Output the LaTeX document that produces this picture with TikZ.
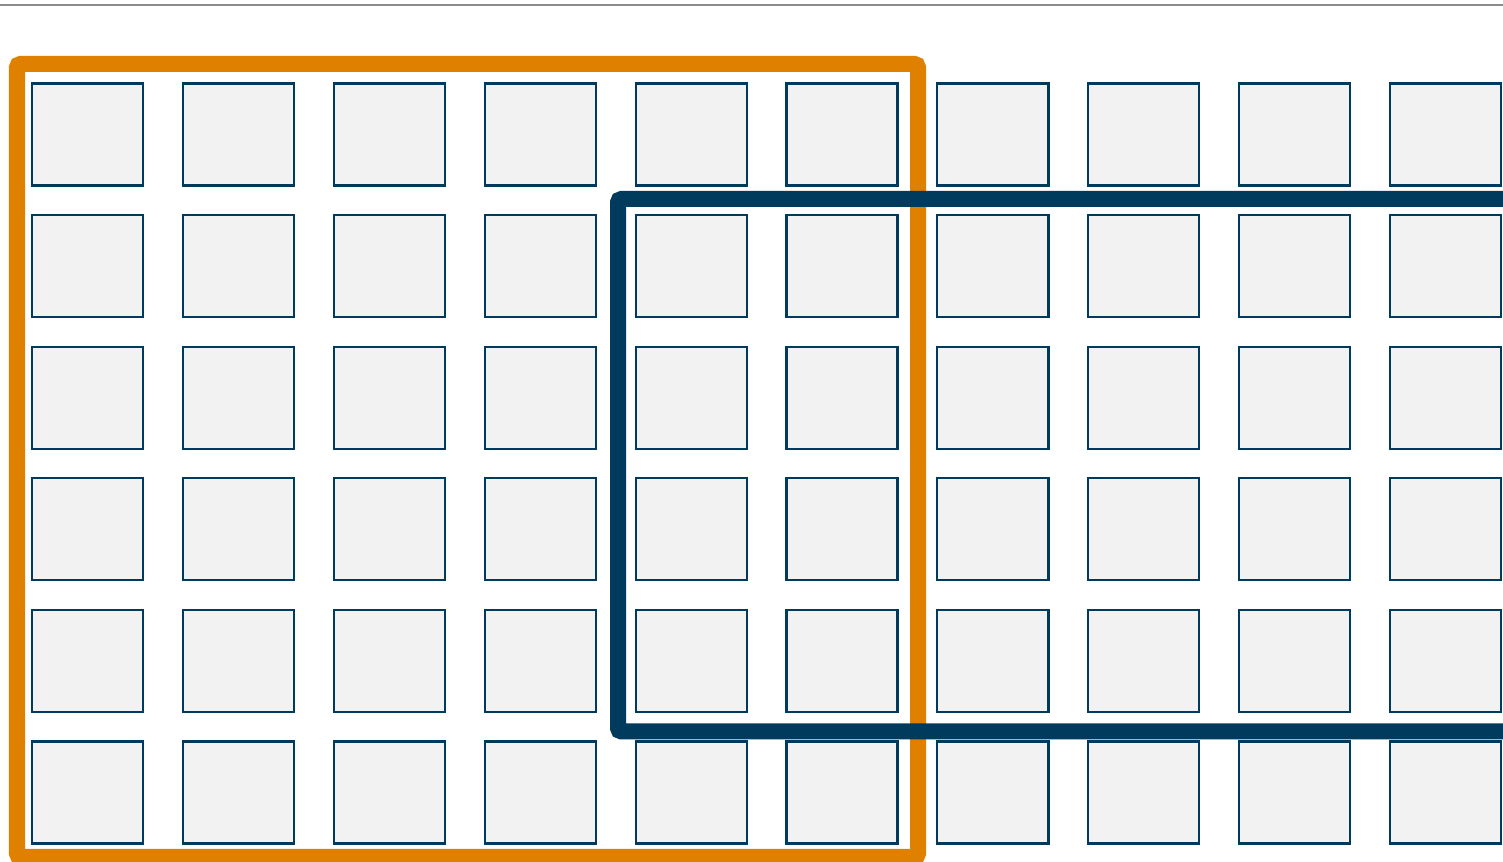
\documentclass[tikz,border=0pt]{standalone}
\definecolor{frameorange}{HTML}{E08000}
\definecolor{frameblue}{HTML}{003A5C}
\definecolor{cellgray}{HTML}{F2F2F2}
\begin{document}
\begin{tikzpicture}[x=0.01cm, y=-0.01cm,
  cell/.style={draw=frameblue, fill=cellgray, line width=0.6pt, minimum width=1.11cm, minimum height=1.02cm, inner sep=0pt}]
\clip (0,0) rectangle (1503,862);
\draw[line width=0.6pt, color=black!45](0,5)--(1503,5);
% grid of cells
\foreach \c in {0,...,9}
  \foreach \r in {0,...,5}
    \node[cell] (sq-\c-\r) at (87.5+150.9*\c, 134.5+131.6*\r) {};
% the two windows
\draw[frameorange, line width=4.55pt, rounded corners=1pt](17,64) rectangle (918,857);
\draw[frameblue, line width=4.55pt, rounded corners=1pt](618,199) rectangle (1560,731.5);
\end{tikzpicture}
\end{document}
